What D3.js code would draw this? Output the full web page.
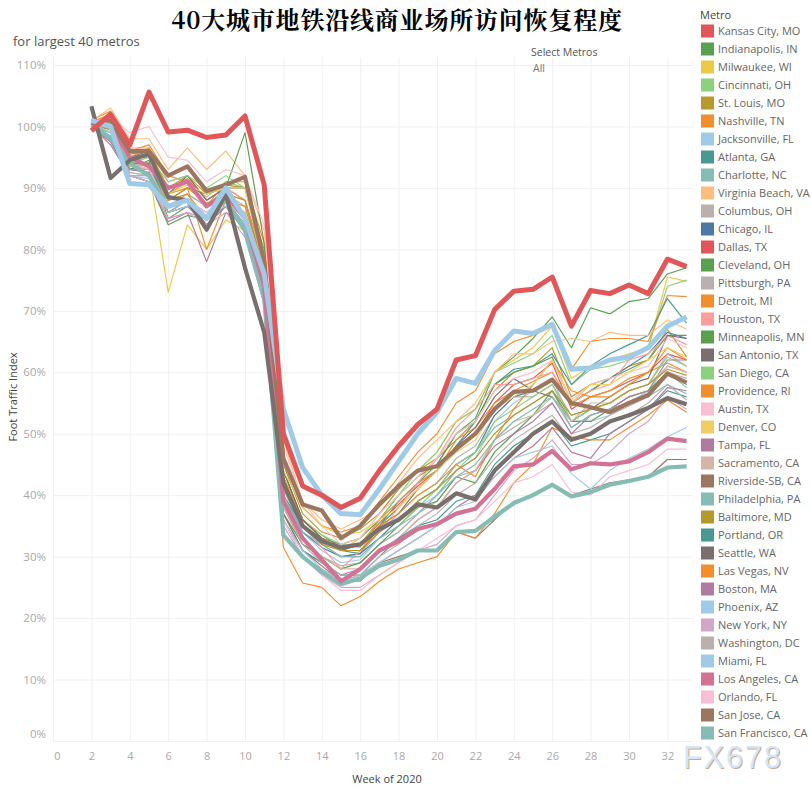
<!DOCTYPE html>
<html>
<head>
<meta charset="utf-8">
<script src="https://cdn.jsdelivr.net/npm/d3@7"></script>
<style>
  html, body { margin: 0; padding: 0; background: #fff; }
  text { font-family: "Open Sans", "Noto Sans", sans-serif; }
  .tick line { stroke: #f0f0f2; }
  .domain { display: none; }
</style>
</head>
<body>
<div id="chart"></div>
<script>
// weeks 2..33 of 2020, one value per week
var weeks = [2,3,4,5,6,7,8,9,10,11,12,13,14,15,16,17,18,19,20,21,22,23,24,25,26,27,28,29,30,31,32,33]
var weekTicks = [0,2,4,6,8,10,12,14,16,18,20,22,24,26,28,30,32]
var pctTicks = [0,10,20,30,40,50,60,70,80,90,100,110]

var kansasCity = [100.6,101.5,95,95.5,90,91.5,88,90,88,78,44,36,33.5,31.5,32,35.5,38.5,41.5,44,48,50,55,58,59,61.5,54,56,57,58.5,60,63,62]
var indianapolis = [100.3,99.5,93,94.5,85,87,85,87,83,73,41,35,33,32,33,36,40,43,45,50,52.5,60,62.5,65.5,69,64,70.5,69.5,71.5,72,76,77]
var milwaukee = [100.5,99,93.5,93,73,84,80,84.8,83,72,40,35,33,31,33,37,41,44,47,52,54,60,62,64,67.5,59,61,62,63,64,75.5,74.8]
var cincinnati = [100.8,100,94,95,90,91,88.5,91,90,77,43,36,33.5,32,31.5,36,40,44,47,52,54,60,61.5,63,66,58,60.5,61,62,64,74,75]
var stLouis = [100.4,100.5,95.5,96,90,92,89,90.5,90,80,45,37,34,33,34.5,37,41,44,46,49,52,57,60,61,64,56,58,59,61,62,67,62.5]
var nashville = [101,102.5,96,97,92,91,87,91,91,81,46,38,35,34,35,39,43,47,50,55,57,63,65,66,67.5,60.5,65,65.5,65.5,65,72.5,72.3]
var jacksonville = [100.6,98,92.5,92,87,88,86,88,86,75,41,34,31,29,29.5,33,35,38,40,44,46,52,55,57,59,52,52,53,55,57,61,60]
var atlanta = [100.4,99.5,93,94,86,88,85,88,84,73,40,35,33,31,30.5,35,39,42,44,48,52,58,60.5,61,63,58,61,63,64.5,66,72,68]
var charlotte = [100.7,100,94,94,88,89,87,90,85,74,39,33,30,28,29,32,34,37,40,44,47,51,53,55,57,51,53,54,55,56,60,57.5]
var virginiaBeach = [100.9,103,98,98,93,96.5,93,96,92,83,49,39,36,34.5,36,38,42,46,49,52,55,60,63,63,65,65.5,65,66.5,66,66,68.5,67]
var columbus = [100.2,99,93,93,87,89,87,89,87,76,42,35,32,30,30.5,34,37,40,42,46,48,53,56,56,58,53,54,55,57,58,63,61]
var chicago = [100.5,100,93,92.5,86,87,85,88,84,74,40,34,31.5,30,30.5,33,36,39,41,45,47,53,56,57,59,55,57,59,61,63,66.5,65.5]
var dallas = [99.3,102,97,105.6,99.1,99.4,98.2,98.6,101.7,90.5,50,41.5,40,38,39.5,44,48,51.5,54,62,62.7,70.2,73.2,73.5,75.5,67.5,73.3,72.8,74.2,72.8,78.4,77.2]
var cleveland = [100.3,99,94,94,88,90,89,90,99,81,44,36,33,31,32,35,38,42,45,50,52,58,60,61,62.5,55,57,59,60.5,62,66,66]
var pittsburgh = [100.1,98,92,92,85,86,85,87,84,72,38,32,30,28.5,29,32,34,37,39,43,44,49,51,53,55,50,51,53,54.5,56,60,59]
var detroit = [100.6,101,95,95,89,91,87,89,88,77,43,36,33,31,32,36,39,42,44,49,51,55,57,58.5,60,54.5,56,57,59,60,61.5,60]
var houston = [100.2,101,96.5,96.5,91,92,88,90,88,77,42,35,31.5,28,31,34,38,42,46,51,54,58,58,59,60,55,57,58,62,63,66,64.5]
var minneapolis = [100,97.5,92,91,84,85.5,85,88,83,71,37,32,30,28,29,32,35,38,39,43,42,47,50,53,57,52,52,54,56,57,60,58]
var sanAntonio = [100.4,100,95,96,89,92,88,90,90,79,44,36,33,31,32,35,37,41,44,48,51,56,59,57,56,52,54,56,58,59,66,65.5]
var sanDiego = [100.8,100,94,95,91,92,90,92,90,79,42,35,32,30,30,33,35,38,41,45,47,52,54,56,58,52,54,55,57,58,62.5,61]
var providence = [100.5,101.5,95,96.5,89,90,80,88,87,77,42,35,32.5,31,31,35,37,40,42,45,43,49,54,58,62,57,56,56,58,60,64,62]
var austin = [101,101.5,99,100,95,94.5,91,93,92,84,48,39,35,32,33,37,40,43,46,50,52,57,59,60,62,55.5,58,59,60,61,65.5,64]
var denver = [100.6,100.5,94,94,89,90.5,89,90,90,78,44,38,35,33.5,34,36,38,41,44,47,49,54,56,58,62,55,58,58,60,62,64,62.5]
var tampa = [100,97,92,91,84.5,86,78,86,84,73,37,31,29,27,28,31,33,36,38,42,44,48,50,52,55,50,53,54,56,57,62,62]
var sacramento = [100.4,99.5,94,93.5,88,89,85,88,86,75,40,33,30,28,28,31,33,36,38,42,44,49,52,53,56,52,55,55,57,58,61,60]
var riverside = [100.5,100,94,93,87,88,85,88,85,74,37,31,28.5,26,27,29,30,31,31,34,33,36,39,40,41.5,40,41,42,42.5,43,45.8,45.8]
var philadelphia = [100.3,99,93,93,86,88,86,88,85,74,40,34,32,30,30,33,35,37,40,43,45,49,52,54,56,51,53,54,55,56,58,56.5]
var baltimore = [100.2,99.5,94,94,88,90,87.5,89,88,76,41,35,32,31,31,34,36,39,41,44,46,50,53,55,57,53,54,55,57,58,60.5,59.5]
var portland = [100.6,100,94,94,87,88,84,87,84,72,36,31,29,27,27,30,33,35,36,39,40,45,48,50,52,48,49,50,52,54,57,56]
var seattle = [103.3,91.6,94.5,95.5,88.5,88,83.2,89,77,66.5,42,35,32.5,31.5,32,34.5,36,38.5,38,40.3,39.3,44,47,50,52,49,50,52,53,54.2,55.8,54.8]
var lasVegas = [100.7,102,94,92,88,89,85,88,85,73,31.5,25.7,25,22,23.5,26,28,29,30,34,33,37,42,45,51,49.5,49,49,51,53,55.5,53.5]
var boston = [100.1,97.5,93,92.5,86,87,84,87,83,71,36,30,28,26,26,29,31,33,35,38,40,43,46,48,51,47,46,50,52,54,57.5,57]
var phoenix = [100.5,99,92,91.5,86,87,85.5,87,84,72,36,31,28,26,27,29,31,33,35,38,39,43,46,47,48,43.5,41,44,46,47.5,49.5,51]
var newYork = [100,98,92,91,85,86,84,86,82,71,35,30,27,25,25,27,29,31,32,35,36,40,44,46,49,45,45,47,50,52,56,54]
var washington = [100.3,98.5,92.5,92,86,88,85,88,84,73,38,32,29,27,27,30,32,35,37,40,42,46,49,51,53,49,50,52,53,55,58,55.5]
var miami = [101,100,90.7,90.5,87,88,85,90,85,76,54,44.5,40,37,36.8,41,45.5,50,53.5,59,58.2,63.5,66.7,66.3,67.8,60.5,60.7,62,62.5,64,67.5,69]
var losAngeles = [101,100,95,93.5,90,91,87,89,85,74,39,33,29.5,26,28,31,32.5,34.5,35.3,37,37.8,41,44.7,45,47.2,44.2,45.2,45,45.5,47,49.2,48.8]
var orlando = [100.7,100,94,93,87,88,86,88,85,73,36,30,27,24.5,24.5,27,29,31,33,35,36,39,42,43,45,40.5,40,43,44,45,47.5,47.5]
var sanJose = [100.5,101,96,96,92,93.5,89.5,90.5,91.8,78,46,38.5,37.5,33,35,38.5,41.5,44,44.7,47.5,50,54,56.8,57,58.8,55,54.3,53.5,55,56.3,59.8,58.3]
var sanFrancisco = [100.5,98,94,92,87,88,85,88,83,72,33.5,30,27.5,25.5,26.5,28.5,29.5,31,31,34,34.2,36.5,38.7,40,41.7,39.8,40.5,41.7,42.3,43,44.5,44.7]

var metros = ['Kansas City, MO','Indianapolis, IN','Milwaukee, WI','Cincinnati, OH','St. Louis, MO','Nashville, TN','Jacksonville, FL','Atlanta, GA','Charlotte, NC','Virginia Beach, VA','Columbus, OH','Chicago, IL','Dallas, TX','Cleveland, OH','Pittsburgh, PA','Detroit, MI','Houston, TX','Minneapolis, MN','San Antonio, TX','San Diego, CA','Providence, RI','Austin, TX','Denver, CO','Tampa, FL','Sacramento, CA','Riverside-SB, CA','Philadelphia, PA','Baltimore, MD','Portland, OR','Seattle, WA','Las Vegas, NV','Boston, MA','Phoenix, AZ','New York, NY','Washington, DC','Miami, FL','Los Angeles, CA','Orlando, FL','San Jose, CA','San Francisco, CA']
var metroValues = [kansasCity,indianapolis,milwaukee,cincinnati,stLouis,nashville,jacksonville,atlanta,charlotte,virginiaBeach,columbus,chicago,dallas,cleveland,pittsburgh,detroit,houston,minneapolis,sanAntonio,sanDiego,providence,austin,denver,tampa,sacramento,riverside,philadelphia,baltimore,portland,seattle,lasVegas,boston,phoenix,newYork,washington,miami,losAngeles,orlando,sanJose,sanFrancisco]
var metroColors = ['#e15759','#59a14f','#edc948','#8cd17d','#b6992d','#f28e2b','#a0cbe8','#499894','#86bcb6','#ffbe7d','#bab0ac','#4e79a7','#e15759','#59a14f','#bab0ac','#f28e2b','#ff9d9a','#59a14f','#79706e','#8cd17d','#f28e2b','#fabfd2','#f1ce63','#b07aa1','#d7b5a6','#9d7660','#86bcb6','#b6992d','#499894','#79706e','#f28e2b','#b07aa1','#a0cbe8','#d4a6c8','#bab0ac','#a0cbe8','#d37295','#fabfd2','#9d7660','#86bcb6']
// drawn on top, thick, in this order
var heavyMetros = ['San Francisco, CA','Los Angeles, CA','Seattle, WA','San Jose, CA','Miami, FL','Dallas, TX']
var heavyWidths = [4.2,4.2,4.2,4.2,5,5]

metroValues.forEach(function (v, i) {
  if (v.length != weeks.length) throw new Error(metros[i] + ' has ' + v.length)
})

var svg = d3.select('#chart').append('svg')
  .attr('width', 811).attr('height', 791)

var x = d3.scaleLinear().domain([0, 33]).range([53, 686.6])
var y = d3.scaleLinear().domain([0, 110]).range([741, 65])

var plotRight = 693, plotTop = 57, plotBottom = 741

// gridlines and axes
var xAxis = svg.append('g').attr('transform', 'translate(0,' + plotBottom + ')')
  .call(d3.axisBottom(x).tickValues(weekTicks).tickSize(plotTop - plotBottom).tickPadding(0))
xAxis.selectAll('text')
  .attr('y', 11).attr('fill', '#aaa').style('font-size', '11px')
  .attr('dx', function (d) { return d == 0 ? 4 : 0 })

var yAxis = svg.append('g').attr('transform', 'translate(53,0)')
  .call(d3.axisLeft(y).tickValues(pctTicks).tickSize(53 - plotRight)
    .tickFormat(function (d) { return d + '%' }))
yAxis.selectAll('text')
  .attr('x', -7).attr('fill', '#aaa').style('font-size', '11.5px')
  .attr('dy', function (d) { return d == 0 ? '-0.3em' : '0.32em' })

var line = d3.line()
  .x(function (d, i) { return x(weeks[i]) })
  .y(function (d) { return y(d) })

var series = metros.map(function (m, i) {
  return { name: m, values: metroValues[i], color: metroColors[i] }
})

svg.append('g').selectAll('path')
  .data(series.filter(function (d) { return heavyMetros.indexOf(d.name) < 0 }))
  .enter().append('path')
  .attr('d', function (d) { return line(d.values) })
  .attr('fill', 'none')
  .attr('stroke', function (d) { return d.color })
  .attr('stroke-width', 1.15)
  .attr('stroke-linejoin', 'round')

svg.append('g').selectAll('path')
  .data(heavyMetros.map(function (n) { return series[metros.indexOf(n)] }))
  .enter().append('path')
  .attr('d', function (d) { return line(d.values) })
  .attr('fill', 'none')
  .attr('stroke', function (d) { return d.color })
  .attr('stroke-width', function (d, i) { return heavyWidths[i] })
  .attr('stroke-linejoin', 'round')

// titles
svg.append('text').attr('x', 397).attr('y', 29).attr('text-anchor', 'middle')
  .style('font-family', '"Noto Serif CJK SC", "Liberation Serif", "Noto Sans CJK SC", serif')
  .style('font-size', '24px').style('font-weight', 'bold').style('letter-spacing', '0.8px')
  .attr('fill', '#000').text('40大城市地铁沿线商业场所访问恢复程度')
svg.append('text').attr('x', 13).attr('y', 46)
  .style('font-size', '13px').attr('fill', '#555').text('for largest 40 metros')
svg.append('text').attr('x', 531).attr('y', 56)
  .style('font-size', '10.5px').attr('fill', '#555').text('Select Metros')
svg.append('text').attr('x', 533).attr('y', 72)
  .style('font-size', '10.5px').attr('fill', '#777').text('All')
svg.append('text').attr('x', 387).attr('y', 783).attr('text-anchor', 'middle')
  .style('font-size', '11px').attr('fill', '#444').text('Week of 2020')
svg.append('text').attr('transform', 'translate(17,397) rotate(-90)').attr('text-anchor', 'middle')
  .style('font-size', '11px').attr('fill', '#444').text('Foot Traffic Index')

// legend
svg.append('text').attr('x', 700).attr('y', 19)
  .style('font-size', '11px').attr('fill', '#444').text('Metro')
var legend = svg.append('g').selectAll('g')
  .data(series).enter().append('g')
  .attr('transform', function (d, i) { return 'translate(701,' + (24.5 + i * 18) + ')' })
legend.append('rect').attr('width', 13).attr('height', 13)
  .attr('fill', function (d) { return d.color })
legend.append('text').attr('x', 17).attr('y', 10.5)
  .style('font-size', '11px').attr('fill', '#666')
  .text(function (d) { return d.name })

// watermark
svg.append('text').attr('x', 683).attr('y', 767.5)
  .style('font-family', '"Liberation Sans", sans-serif')
  .style('font-size', '30.5px').style('letter-spacing', '2px')
  .style('text-shadow', '1px 1px 0 #c9ab8f')
  .attr('fill', '#d6e5f7').text('FX678')
</script>
</body>
</html>
